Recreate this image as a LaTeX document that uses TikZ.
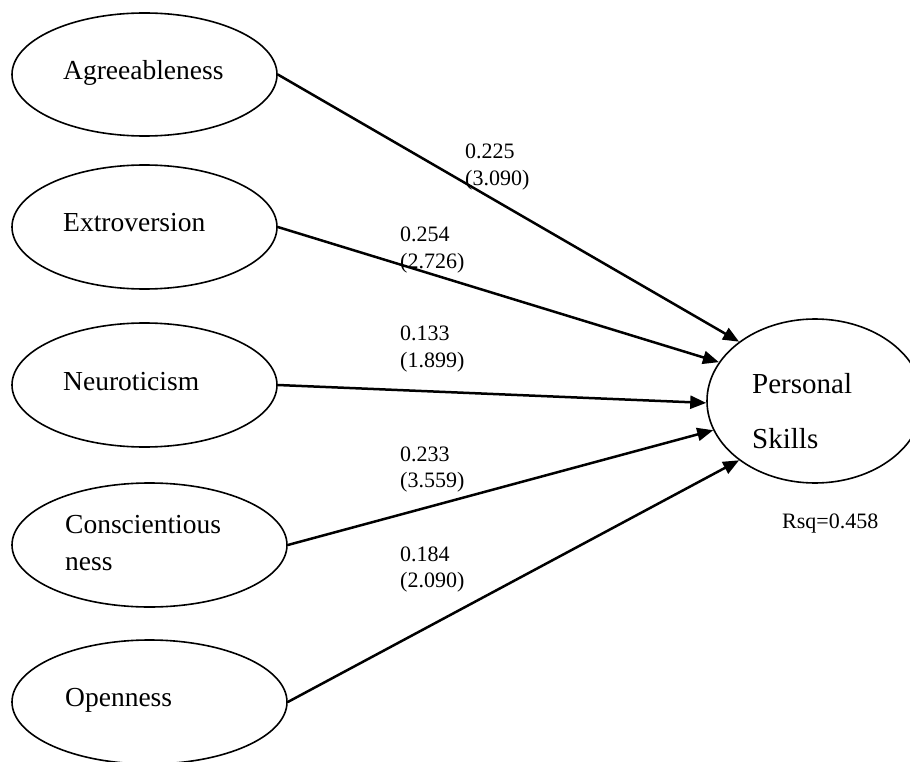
\documentclass[tikz,border=0pt]{standalone}
\usepackage{fontspec}
\setmainfont{Liberation Serif}
\usetikzlibrary{shapes.geometric,arrows.meta}
\begin{document}
\begin{tikzpicture}[x=1pt,y=-1pt,
  latent/.style={draw,ellipse,line width=1.6pt,inner sep=0pt},
  cname/.style={anchor=base west,inner sep=0pt,font=\fontsize{27.5}{32}\selectfont},
  coef/.style={anchor=base west,inner sep=0pt,font=\fontsize{22}{26}\selectfont},
  patharr/.style={line width=2.5pt,-{Triangle[length=16pt,width=13pt]}}]
\fill[white] (0,0) rectangle (910,762);
\useasboundingbox (0,0) rectangle (910,762);
% source constructs
\node[latent,minimum width=265pt,minimum height=123pt] (ag) at (144.5,74.5) {};
\node[latent,minimum width=265pt,minimum height=124pt] (ex) at (144.5,227) {};
\node[latent,minimum width=265pt,minimum height=124pt] (ne) at (144.5,385) {};
\node[latent,minimum width=275pt,minimum height=124pt] (co) at (149.5,545) {};
\node[latent,minimum width=275pt,minimum height=124pt] (op) at (149.5,702) {};
% target construct
\node[latent,minimum width=216pt,minimum height=164pt] (ps) at (815,401) {};
% names
\node[cname] (tag) at (63,80) {Agreeableness};
\node[cname] (tex) at (63,232) {Extroversion};
\node[cname] (tne) at (63,390) {Neuroticism};
\node[cname] (tco1) at (65,533) {Conscientious};
\node[cname] (tco2) at (65,570) {ness};
\node[cname] (top) at (65,706) {Openness};
\node[cname,font=\fontsize{29}{34}\selectfont] (tps1) at (752,393) {Personal};
\node[cname,font=\fontsize{29}{34}\selectfont] (tps2) at (752,448) {Skills};
% paths
\draw[patharr] (ag.east) -- (ps.142.9);
\draw[patharr] (ex.east) -- (ps.158.8);
\draw[patharr] (ne.east) -- (ps.181);
\draw[patharr] (co.east) -- (ps.196.2);
\draw[patharr] (op.east) -- (ps.218);
% coefficients
\node[coef] (c1a) at (465,159) {0.225};
\node[coef] (c1b) at (465,186) {(3.090)};
\node[coef] (c2a) at (400,241) {0.254};
\node[coef] (c2b) at (400,268) {(2.726)};
\node[coef] (c3a) at (400,340) {0.133};
\node[coef] (c3b) at (400,367) {(1.899)};
\node[coef] (c4a) at (400,461) {0.233};
\node[coef] (c4b) at (400,487) {(3.559)};
\node[coef] (c5a) at (400,561) {0.184};
\node[coef] (c5b) at (400,587) {(2.090)};
\node[coef] (rsq) at (782,528) {Rsq=0.458};
\end{tikzpicture}
\end{document}
